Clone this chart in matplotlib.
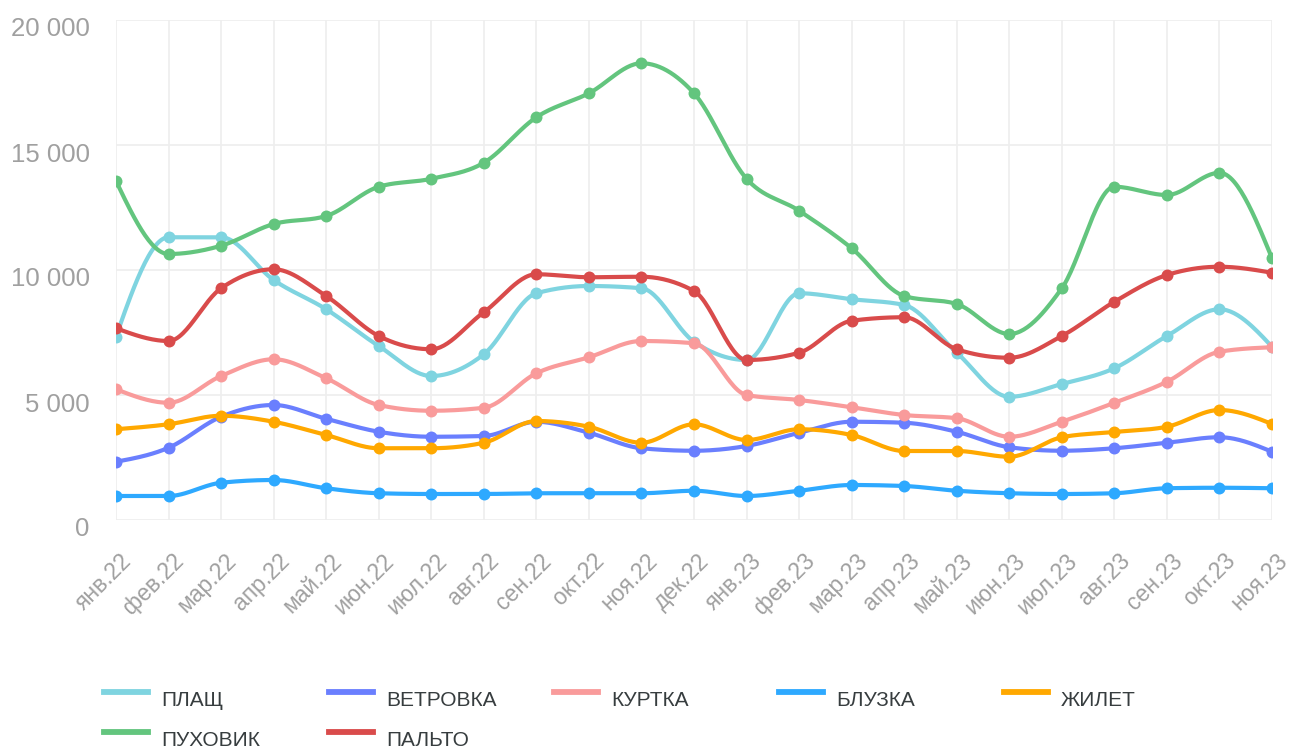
import numpy as np
import matplotlib
matplotlib.use("Agg")
import matplotlib.pyplot as plt
from matplotlib.lines import Line2D
from matplotlib.ticker import FuncFormatter
import matplotlib.transforms as mtransforms

plt.rcParams['font.family'] = ['Liberation Sans', 'DejaVu Sans']

months = ["янв.22", "фев.22", "мар.22", "апр.22", "май.22", "июн.22", "июл.22",
          "авг.22", "сен.22", "окт.22", "ноя.22", "дек.22", "янв.23", "фев.23",
          "мар.23", "апр.23", "май.23", "июн.23", "июл.23", "авг.23", "сен.23",
          "окт.23", "ноя.23"]

plashch = [7340, 11310, 11310, 9600, 8430, 6960, 5760, 6630, 9070, 9360, 9270, 7130,
           6400, 9070, 8830, 8600, 6690, 4930, 5440, 6070, 7360, 8430, 6930]
vetrovka = [2330, 2890, 4130, 4600, 4050, 3530, 3330, 3360, 3930, 3490, 2870, 2770,
            2960, 3490, 3930, 3890, 3530, 2910, 2770, 2870, 3090, 3310, 2730]
kurtka = [5230, 4690, 5760, 6430, 5670, 4600, 4370, 4490, 5870, 6510, 7160, 7070,
          5000, 4800, 4510, 4200, 4070, 3330, 3930, 4690, 5530, 6730, 6910]
bluzka = [960, 960, 1490, 1600, 1270, 1070, 1040, 1040, 1070, 1070, 1070, 1170,
          960, 1170, 1400, 1360, 1170, 1070, 1040, 1070, 1270, 1290, 1270]
zhilet = [3630, 3830, 4170, 3930, 3400, 2870, 2870, 3090, 3960, 3730, 3090, 3830,
          3200, 3630, 3400, 2760, 2760, 2530, 3310, 3520, 3730, 4400, 3840]
puhovik = [13560, 10640, 10970, 11840, 12160, 13330, 13650, 14290, 16110, 17070, 18270, 17070,
           13650, 12370, 10870, 8960, 8640, 7440, 9270, 13330, 13000, 13890, 10470]
palto = [7670, 7160, 9270, 10030, 8960, 7360, 6830, 8310, 9830, 9710, 9730, 9160,
         6400, 6690, 7970, 8110, 6830, 6490, 7360, 8730, 9800, 10130, 9890]

names = ["ПЛАЩ", "ВЕТРОВКА", "КУРТКА", "БЛУЗКА", "ЖИЛЕТ", "ПУХОВИК", "ПАЛЬТО"]
series = [plashch, vetrovka, kurtka, bluzka, zhilet, puhovik, palto]
colors = ["#7fd4e0", "#6a7ffe", "#f99b9b", "#2ea9ff", "#ffa800", "#63c57e", "#d94b4b"]


def monotone_curve(x, y, n=30):
    # monotone cubic (like d3 curveMonotoneX)
    x = np.asarray(x, float)
    y = np.asarray(y, float)
    h = np.diff(x)
    s = np.diff(y) / h
    t = np.zeros_like(y)
    for i in range(1, len(y) - 1):
        p = (s[i - 1] * h[i] + s[i] * h[i - 1]) / (h[i - 1] + h[i])
        t[i] = (np.sign(s[i - 1]) + np.sign(s[i])) * min(abs(s[i - 1]), abs(s[i]), 0.5 * abs(p))
    t[0] = (3 * s[0] - t[1]) / 2
    t[-1] = (3 * s[-1] - t[-2]) / 2
    xs, ys = [], []
    for i in range(len(x) - 1):
        u = np.linspace(0, 1, n)
        h00 = 2 * u**3 - 3 * u**2 + 1
        h10 = u**3 - 2 * u**2 + u
        h01 = -2 * u**3 + 3 * u**2
        h11 = u**3 - u**2
        xs.append(x[i] + u * h[i])
        ys.append(h00 * y[i] + h10 * h[i] * t[i] + h01 * y[i + 1] + h11 * h[i] * t[i + 1])
    return np.concatenate(xs), np.concatenate(ys)


fig = plt.figure(figsize=(12.9, 7.52), dpi=100)
ax = fig.add_axes([116 / 1290, 1 - 520 / 752, (1272 - 116) / 1290, 500 / 752])

xi = np.arange(len(months))
for i, (vals, c) in enumerate(zip(series, colors)):
    cx, cy = monotone_curve(xi, vals)
    ax.plot(cx, cy, color=c, lw=3, solid_capstyle='round', zorder=3 + i)
    ax.plot(xi, vals, 'o', color=c, ms=8.6, mew=0, zorder=3 + i)

ax.set_xlim(0, len(months) - 1)
ax.set_ylim(0, 20000)
ax.set_yticks([0, 5000, 10000, 15000, 20000])
ax.yaxis.set_major_formatter(FuncFormatter(lambda v, p: f"{int(v):,}".replace(",", " ")))
ax.set_xticks(xi)
ax.set_xticklabels(months, rotation=45, ha='right', va='center', rotation_mode='anchor')
ax.grid(True, color='#eeeeee', lw=1.2, zorder=0)
for sp in ax.spines.values():
    sp.set_visible(False)
ax.tick_params(axis='both', length=0, colors='#a0a0a0')
ax.tick_params(axis='y', labelsize=18.5, pad=19)
ax.tick_params(axis='x', labelsize=16.5, pad=27)
off = mtransforms.ScaledTranslation(12 / 100, 0, fig.dpi_scale_trans)
for lab in ax.get_xticklabels():
    lab.set_transform(lab.get_transform() + off)
yoff = mtransforms.ScaledTranslation(0, -7 / 100, fig.dpi_scale_trans)
for lab in ax.get_yticklabels():
    lab.set_transform(lab.get_transform() + yoff)

# legend
col_x = [104, 329, 554, 779, 1004]
rows = [(692, 701), (732, 741)]
for k, (nm, c) in enumerate(zip(names, colors)):
    r, cidx = divmod(k, 5)
    x0 = col_x[cidx]
    ym, yt = rows[r]
    fig.add_artist(Line2D([x0 / 1290, (x0 + 44) / 1290], [1 - ym / 752, 1 - ym / 752],
                          color=c, lw=4.2, transform=fig.transFigure))
    fig.text((x0 + 57) / 1290, 1 - yt / 752, nm, fontsize=15, color='#373d3f',
             ha='left', va='center')

fig.savefig("out.png", dpi=100, facecolor='white')
